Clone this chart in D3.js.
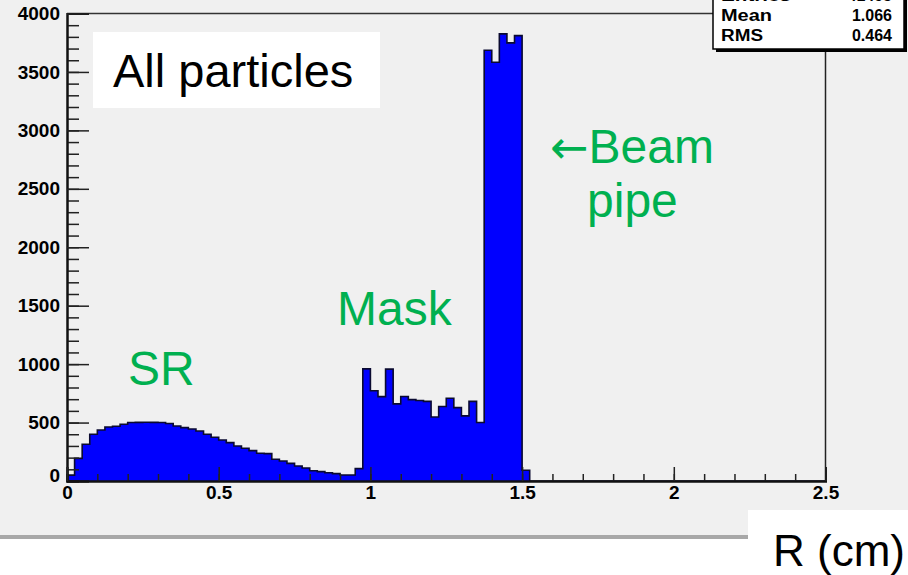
<!DOCTYPE html>
<html>
<head>
<meta charset="utf-8">
<script src="https://cdn.jsdelivr.net/npm/d3@7"></script>
<style>
  html, body { margin: 0; padding: 0; background: #ffffff; }
  svg { display: block; }
</style>
</head>
<body>
<svg id="chart" width="908" height="575"></svg>
<script>
// ---------------- data ----------------
const binLow = 0;
const binHigh = 2.5;
const binWidth = 0.025;
const counts = [
  50, 194, 314, 400, 437, 462, 468, 485, 500, 502,
  503, 502, 500, 492, 471, 457, 445, 428, 400, 374,
  351, 328, 300, 280, 260, 237, 234, 186, 171, 151,
  128, 111, 88, 80, 71, 63, 51, 51, 106, 959,
  772, 722, 957, 660, 723, 696, 689, 681, 547, 637,
  708, 628, 557, 681, 500, 3686, 3583, 3826, 3749, 3811,
  92, 0, 0, 0, 0, 0, 0, 0, 0, 0,
  0, 0, 0, 0, 0, 0, 0, 0, 0, 0,
  0, 0, 0, 0, 0, 0, 0, 0, 0, 0,
  0, 0, 0, 0, 0, 0, 0, 0, 0, 0
];
const yTicks = [0, 500, 1000, 1500, 2000, 2500, 3000, 3500, 4000];
const xTicks = [0, 0.5, 1, 1.5, 2, 2.5];
const xTickLabels = ["0", "0.5", "1", "1.5", "2", "2.5"];
const statNames = ["Entries", "Mean", "RMS"];
const statValues = ["41495", "1.066", "0.464"];
const titleText = "All particles";
const xTitle = "R (cm)";
const annotations = [
  { arrow: "", text: "SR", x: 0.201, y: 822 },
  { arrow: "", text: "Mask", x: 0.89, y: 1335 },
  { arrow: "\u2190", text: "Beam", x: 1.592, y: 2725 },
  { arrow: "", text: "pipe", x: 1.714, y: 2255 }
];

// ---------------- layout ----------------
const svg = d3.select("#chart");
const W = 908, H = 575;
const frame = { left: 67, right: 825.5, top: 13.5, bottom: 481 };

const x = d3.scaleLinear().domain([binLow, binHigh]).range([frame.left, frame.right]);
const y = d3.scaleLinear().domain([0, 4000]).range([frame.bottom, frame.top]);

// backgrounds
svg.append("rect").attr("x", 0).attr("y", 0).attr("width", W).attr("height", H).attr("fill", "#ffffff");
svg.append("rect").attr("x", 0).attr("y", 0).attr("width", W).attr("height", 536).attr("fill", "#f0f0f0");
svg.append("rect").attr("x", 0).attr("y", 535).attr("width", 748).attr("height", 4).attr("fill", "#a8a8a8");
svg.append("rect").attr("x", 748).attr("y", 510).attr("width", 160).attr("height", 65).attr("fill", "#ffffff");

// histogram
const bins = counts.map((c, i) => ({ x0: binLow + i * binWidth, x1: binLow + (i + 1) * binWidth, v: c }));
const pts = [];
bins.forEach(b => { pts.push([b.x0, b.v]); pts.push([b.x1, b.v]); });

const area = d3.area().x(d => x(d[0])).y0(y(0)).y1(d => y(d[1]));
svg.append("path").datum(pts).attr("d", area).attr("fill", "#0000ff");

const line = d3.line().x(d => x(d[0])).y(d => y(d[1]));
svg.append("path").datum(pts).attr("d", line)
  .attr("fill", "none").attr("stroke", "#0a0a30").attr("stroke-width", 1.6)
  .attr("stroke-linejoin", "miter");

// frame lines (top & right)
svg.append("line").attr("x1", frame.left).attr("x2", frame.right).attr("y1", frame.top).attr("y2", frame.top)
  .attr("stroke", "#333").attr("stroke-width", 1.5);
svg.append("line").attr("x1", frame.right).attr("x2", frame.right).attr("y1", frame.top).attr("y2", frame.bottom)
  .attr("stroke", "#222").attr("stroke-width", 1.5);

// axes
const labelFont = "'Liberation Sans', Arial, Helvetica, sans-serif";

const yMinor = d3.range(0, 4001, 100);
const gyMinor = svg.append("g").attr("transform", `translate(${frame.left},0)`)
  .call(d3.axisLeft(y).tickValues(yMinor).tickSize(-12).tickFormat(""));
const gy = svg.append("g").attr("transform", `translate(${frame.left},0)`)
  .call(d3.axisLeft(y).tickValues(yTicks).tickSize(-22).tickPadding(7).tickFormat(d3.format("d")));

const xMinor = d3.range(0, 26).map(i => i / 10);
const gxMinor = svg.append("g").attr("transform", `translate(0,${frame.bottom})`)
  .call(d3.axisBottom(x).tickValues(xMinor).tickSize(-7).tickFormat(""));
const gx = svg.append("g").attr("transform", `translate(0,${frame.bottom})`)
  .call(d3.axisBottom(x).tickValues(xTicks).tickSize(-14).tickPadding(5)
    .tickFormat((d, i) => xTickLabels[i]));

[gyMinor, gy, gxMinor, gx].forEach(g => {
  g.select(".domain").attr("stroke", "#111").attr("stroke-width", 2);
  g.selectAll(".tick line").attr("stroke", "#222").attr("stroke-width", 1.5);
  g.selectAll("text").attr("font-family", labelFont).attr("font-weight", "bold")
    .attr("font-size", 19).attr("fill", "#000");
});
gy.selectAll(".tick").filter(d => d === 0).select("text").attr("dy", "0.05em");

// title box
svg.append("rect").attr("x", 93).attr("y", 32).attr("width", 287).attr("height", 76).attr("fill", "#ffffff");
svg.append("text").attr("x", 113).attr("y", 87).text(titleText)
  .attr("font-family", labelFont).attr("font-size", 47).attr("fill", "#000");

// annotations
const annoG = svg.selectAll("text.anno").data(annotations).enter().append("text").attr("class", "anno")
  .attr("x", d => x(d.x)).attr("y", d => y(d.y))
  .attr("font-family", labelFont).attr("font-size", 48).attr("fill", "#00b050");
annoG.filter(d => d.arrow).append("tspan")
  .attr("font-family", "'DejaVu Sans', sans-serif").attr("font-size", 46)
  .text(d => d.arrow);
annoG.append("tspan").text(d => d.text);

// stats box
const sb = { x: 713, y: -20, w: 191, h: 69 };
svg.append("rect").attr("x", sb.x + 3).attr("y", sb.y + 3).attr("width", sb.w).attr("height", sb.h).attr("fill", "#000");
svg.append("rect").attr("x", sb.x).attr("y", sb.y).attr("width", sb.w).attr("height", sb.h)
  .attr("fill", "#ffffff").attr("stroke", "#000").attr("stroke-width", 1.5);
const statY = [1, 21, 41];
statNames.forEach((n, i) => {
  svg.append("text").attr("x", 721).attr("y", statY[i]).text(n)
    .attr("font-family", labelFont).attr("font-weight", "bold").attr("font-size", 16)
    .attr("textLength", n === "Mean" ? 51 : (n === "RMS" ? 42 : 70)).attr("lengthAdjust", "spacingAndGlyphs");
  svg.append("text").attr("x", 892).attr("y", statY[i]).attr("text-anchor", "end").text(statValues[i])
    .attr("font-family", labelFont).attr("font-weight", "bold").attr("font-size", 16);
});

// x-axis title
svg.append("text").attr("x", 905).attr("y", 566).attr("text-anchor", "end").text(xTitle)
  .attr("font-family", labelFont).attr("font-size", 44).attr("fill", "#000");
</script>
</body>
</html>
